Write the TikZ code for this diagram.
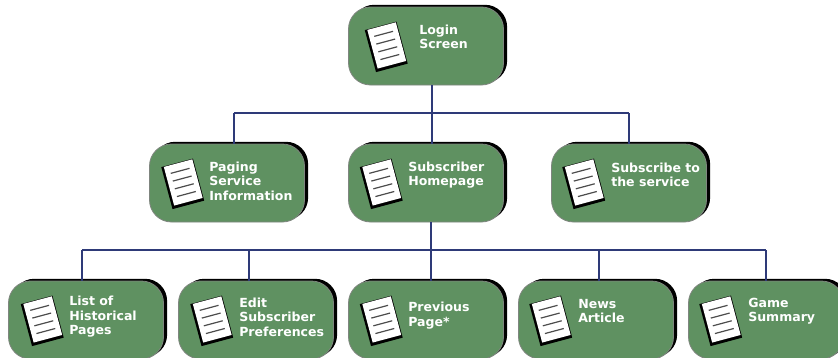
\documentclass[tikz,border=0pt]{standalone}
\usepackage{fontspec}
\setmainfont{DejaVu Sans}
\definecolor{boxgreen}{HTML}{5F9161}
\definecolor{linkblue}{HTML}{2E3A78}
\definecolor{rimgray}{HTML}{7F857F}
\tikzset{
  x=0.75pt,y=-0.75pt,
  box/.style={rounded corners=22*0.75pt,fill=boxgreen,draw=rimgray,line width=0.6pt,
    minimum width=155*0.75pt,minimum height=78*0.75pt,inner sep=0pt,
    preaction={fill=black,draw=none,transform canvas={shift={(3.6*0.75pt,2.2*0.75pt)}}}},
  lbl/.style={text=white,font=\fontsize{9.4pt}{10.9pt}\selectfont\bfseries,align=left,anchor=west,inner sep=0pt},
  link/.style={draw=linkblue,line width=1.6pt},
  rule/.style={draw=black!70,line width=0.9pt},
}
\newcommand{\docicon}[2]{%
  \begin{scope}[shift={(#1,#2)},rotate=15]
    \fill[black] (-17,-20.5) rectangle (15.8,23);
    \fill[white] (-14.5,-20) rectangle (15,20);
    \foreach \yy in {-12,-4,4,12}{\draw[rule] (-9.5,\yy) -- (10,\yy);}
  \end{scope}}
\begin{document}
\begin{tikzpicture}
\useasboundingbox (0,0) rectangle (838,357);
\clip (0,0) rectangle (838,357);
\coordinate (j1) at (432,113);
\coordinate (j2) at (431,250);
\coordinate (a1) at (234,113);
\coordinate (a2) at (629,113);
\coordinate (d1) at (82,250);
\coordinate (d2) at (249,250);
\coordinate (d3) at (431,250);
\coordinate (d4) at (599,250);
\coordinate (d5) at (766,250);
\node[box] (login) at (426,46) {};
\node[box] (paging) at (227,183) {};
\node[box] (home) at (426,183) {};
\node[box] (sub) at (629,183) {};
\node[box] (hist) at (86,320) {};
\node[box] (edit) at (256,320) {};
\node[box] (prev) at (426,320) {};
\node[box] (news) at (596,320) {};
\node[box] (game) at (766,320) {};
\draw[link] (j1 |- login.south) -- (j1);
\draw[link] (a1) -- (a2);
\draw[link] (a1) -- (a1 |- paging.north);
\draw[link] (j1) -- (j1 |- home.north);
\draw[link] (a2) -- (a2 |- sub.north);
\draw[link] (j2 |- home.south) -- (j2);
\draw[link] (d1) -- (d5);
\draw[link] (d1) -- (d1 |- hist.north);
\draw[link] (d2) -- (d2 |- edit.north);
\draw[link] (d3) -- (d3 |- prev.north);
\draw[link] (d4) -- (d4 |- news.north);
\draw[link] (d5) -- (d5 |- game.north);
\docicon{386.5}{45.5}
\docicon{183}{182.5}
\docicon{381.5}{182.5}
\docicon{584}{182.5}
\docicon{42.5}{319.5}
\docicon{212}{319.5}
\docicon{381.5}{319.5}
\docicon{551}{319.5}
\docicon{721}{319.5}
\node[lbl] (tlogin) at (419,37) {Login\\Screen};
\node[lbl] (tpaging) at (209,181) {Paging\\Service\\Information};
\node[lbl] (thome) at (408,175) {Subscriber\\Homepage};
\node[lbl] (tsub) at (611,175) {Subscribe to\\the service};
\node[lbl] (thist) at (69,317) {List of\\Historical\\Pages};
\node[lbl] (tedit) at (239,317) {Edit\\Subscriber\\Preferences};
\node[lbl] (tprev) at (408,315.5) {Previous\\Page*};
\node[lbl] (tnews) at (578,311) {News\\Article};
\node[lbl] (tgame) at (748,311) {Game\\Summary};
\end{tikzpicture}
\end{document}
